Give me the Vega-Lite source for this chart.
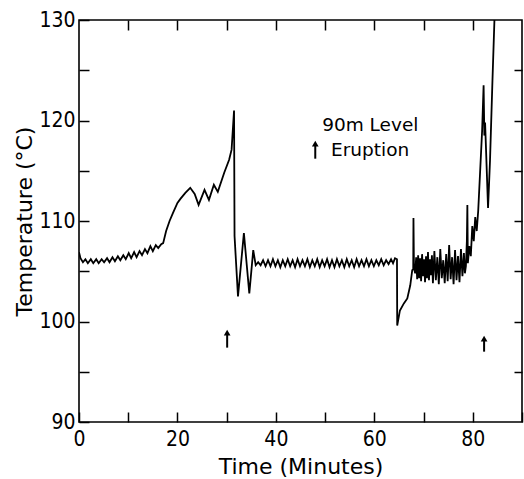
{
  "$schema": "https://vega.github.io/schema/vega-lite/v6.json",
  "width": 443,
  "height": 402,
  "autosize": {"type": "none"},
  "padding": {"left": 79, "top": 20, "right": 2, "bottom": 57},
  "background": "white",
  "config": {
    "view": {"stroke": "black", "strokeWidth": 1.6},
    "axis": {
      "labelColor": "black", "tickColor": "black", "titleColor": "black",
      "domain": false, "grid": false, "tickWidth": 1.5,
      "labelFont": "DejaVu Sans Condensed, Liberation Sans, sans-serif", "labelFontSize": 21,
      "titleFont": "DejaVu Sans", "titleFontSize": 22, "titleFontWeight": "normal",
      "labelOverlap": false, "labelFlush": false
    }
  },
  "datasets": {
    "temp": [
      {"t":0,"T":106.9},{"t":0.3,"T":106.3},{"t":0.8,"T":105.9},{"t":1.3,"T":106.2},{"t":1.8,"T":105.8},{"t":2.4,"T":106.2},{"t":2.9,"T":105.8},{"t":3.5,"T":106.2},{"t":4.0,"T":105.8},{"t":4.6,"T":106.2},{"t":5.1,"T":105.9},{"t":5.7,"T":106.3},{"t":6.2,"T":105.9},{"t":6.8,"T":106.4},{"t":7.3,"T":106.0},{"t":7.9,"T":106.5},{"t":8.4,"T":106.1},{"t":9.0,"T":106.6},{"t":9.5,"T":106.2},{"t":10.1,"T":106.8},{"t":10.6,"T":106.3},{"t":11.2,"T":106.9},{"t":11.7,"T":106.4},{"t":12.3,"T":107.0},{"t":12.8,"T":106.6},{"t":13.4,"T":107.2},{"t":13.9,"T":106.8},{"t":14.5,"T":107.5},{"t":15.0,"T":107.0},{"t":15.6,"T":107.6},{"t":16.1,"T":107.3},{"t":16.7,"T":107.7},{"t":17.1,"T":107.8},{"t":17.7,"T":109.0},{"t":18.4,"T":110.0},{"t":19.1,"T":110.8},{"t":20.0,"T":111.8},{"t":20.6,"T":112.2},{"t":21.6,"T":112.8},{"t":22.6,"T":113.3},{"t":23.5,"T":112.7},{"t":24.3,"T":111.6},{"t":25.5,"T":113.1},{"t":26.4,"T":112.1},{"t":27.4,"T":113.6},{"t":28.2,"T":112.9},{"t":29.5,"T":114.8},{"t":30.5,"T":116.1},{"t":31.0,"T":117.1},{"t":31.5,"T":121.0},{"t":31.6,"T":108.5},{"t":32.3,"T":102.5},{"t":33.5,"T":108.8},{"t":34.6,"T":102.8},{"t":35.4,"T":107.1},{"t":35.9,"T":105.6},{"t":36.4,"T":105.9},
      {"t":36.9,"T":105.6},{"t":37.4,"T":106.1},{"t":37.9,"T":105.5},{"t":38.4,"T":106.1},{"t":38.9,"T":105.5},{"t":39.4,"T":106.2},{"t":39.9,"T":105.5},{"t":40.4,"T":106.1},{"t":40.9,"T":105.4},{"t":41.4,"T":106.1},{"t":41.9,"T":105.5},{"t":42.4,"T":106.2},{"t":42.9,"T":105.5},{"t":43.4,"T":106.1},{"t":43.9,"T":105.4},{"t":44.4,"T":106.2},{"t":44.9,"T":105.5},{"t":45.4,"T":106.1},{"t":45.9,"T":105.5},{"t":46.4,"T":106.2},{"t":46.9,"T":105.4},{"t":47.4,"T":106.1},{"t":47.9,"T":105.5},{"t":48.4,"T":106.2},{"t":48.9,"T":105.4},{"t":49.4,"T":106.1},{"t":49.9,"T":105.5},{"t":50.4,"T":106.2},{"t":50.9,"T":105.4},{"t":51.4,"T":106.1},{"t":51.9,"T":105.4},{"t":52.4,"T":106.2},{"t":52.9,"T":105.5},{"t":53.4,"T":106.1},{"t":53.9,"T":105.4},{"t":54.4,"T":106.2},{"t":54.9,"T":105.5},{"t":55.4,"T":106.1},{"t":55.9,"T":105.4},{"t":56.4,"T":106.2},{"t":56.9,"T":105.5},{"t":57.4,"T":106.1},{"t":57.9,"T":105.5},{"t":58.4,"T":106.2},{"t":58.9,"T":105.5},{"t":59.4,"T":106.1},{"t":59.9,"T":105.5},{"t":60.4,"T":106.1},{"t":60.9,"T":105.6},{"t":61.4,"T":106.2},{"t":61.9,"T":105.6},{"t":62.4,"T":106.1},{"t":62.9,"T":105.7},{"t":63.4,"T":106.2},{"t":63.8,"T":105.8},{"t":64.2,"T":106.3},{"t":64.6,"T":106.2},
      {"t":64.65,"T":99.6},{"t":65.2,"T":101.1},{"t":66.0,"T":101.8},{"t":66.7,"T":102.3},{"t":67.3,"T":103.6},{"t":67.7,"T":105.1},{"t":67.9,"T":105.2},{"t":67.95,"T":110.3},{"t":68.05,"T":105.3},
      {"t":68.3,"T":104.8},{"t":68.5,"T":106.4},{"t":68.7,"T":104.2},{"t":68.9,"T":106.6},{"t":69.1,"T":104.3},{"t":69.3,"T":106.3},{"t":69.5,"T":104.0},{"t":69.7,"T":106.7},{"t":69.9,"T":104.5},{"t":70.1,"T":106.2},{"t":70.3,"T":103.9},{"t":70.5,"T":106.5},{"t":70.7,"T":104.3},{"t":70.9,"T":106.9},{"t":71.1,"T":104.1},{"t":71.3,"T":106.2},{"t":71.5,"T":104.6},{"t":71.7,"T":106.6},{"t":71.9,"T":103.8},{"t":72.2,"T":107.0},{"t":72.5,"T":104.1},{"t":72.8,"T":106.4},{"t":73.1,"T":103.7},{"t":73.4,"T":107.2},{"t":73.7,"T":104.3},{"t":74.0,"T":106.1},{"t":74.3,"T":103.8},{"t":74.6,"T":106.7},{"t":74.9,"T":104.0},{"t":75.2,"T":107.6},{"t":75.5,"T":104.2},{"t":75.8,"T":106.4},{"t":76.1,"T":103.7},{"t":76.4,"T":107.1},{"t":76.7,"T":104.1},{"t":77.0,"T":106.5},{"t":77.3,"T":103.9},{"t":77.6,"T":107.2},{"t":77.9,"T":104.5},{"t":78.2,"T":106.8},{"t":78.4,"T":104.8},
      {"t":78.6,"T":105.5},{"t":78.8,"T":108.0},{"t":78.9,"T":111.6},{"t":79.0,"T":105.8},{"t":79.3,"T":107.5},{"t":79.6,"T":106.5},{"t":79.9,"T":109.5},{"t":80.2,"T":108.0},{"t":80.5,"T":110.4},{"t":80.8,"T":109.0},{"t":81.1,"T":111.0},{"t":81.5,"T":115.0},{"t":81.9,"T":119.0},{"t":82.2,"T":123.5},{"t":82.35,"T":118.5},{"t":82.5,"T":119.8},{"t":82.7,"T":117.0},{"t":83.1,"T":111.3},{"t":83.5,"T":116.0},{"t":84.0,"T":124.0},{"t":84.4,"T":130.0}
    ],
    "arrows": [
      {"t":30.1,"lo":97.4,"hi":98.9},
      {"t":82.3,"lo":97.0,"hi":98.3},
      {"t":48.0,"lo":116.2,"hi":117.7}
    ],
    "notes": [
      {"t":49.4,"T":119.55,"label":"90m Level"},
      {"t":51.2,"T":117.1,"label":"Eruption"}
    ]
  },
  "layer": [
    {
      "data": {"name": "temp"},
      "mark": {"type": "line", "color": "black", "strokeWidth": 1.8, "clip": true},
      "encoding": {
        "x": {"field": "t", "type": "quantitative", "scale": {"domain": [0, 90], "nice": false, "zero": false},
          "axis": {"orient": "bottom", "values": [0,10,20,30,40,50,60,70,80,90],
            "labelExpr": "datum.value % 20 == 0 && datum.value < 90 ? datum.label : ''",
            "tickSize": -10, "labelPadding": 16, "title": "Time (Minutes)", "titlePadding": 7}},
        "y": {"field": "T", "type": "quantitative", "scale": {"domain": [90, 130], "nice": false, "zero": false},
          "axis": {"orient": "left", "values": [90,95,100,105,110,115,120,125,130],
            "labelExpr": "datum.value % 10 == 0 ? datum.label : ''",
            "tickSize": -10, "labelPadding": 14, "title": "Temperature (°C)", "titlePadding": 2}}
      }
    },
    {
      "data": {"name": "arrows"},
      "mark": {"type": "rule", "color": "black", "strokeWidth": 2},
      "encoding": {
        "x": {"field": "t", "type": "quantitative",
          "axis": {"orient": "top", "values": [10,20,30,40,50,60,70,80], "labels": false, "tickSize": -10, "title": null}},
        "y": {"field": "lo", "type": "quantitative",
          "axis": {"orient": "right", "values": [95,100,105,110,115,120,125], "labels": false, "tickSize": -8, "title": null}},
        "y2": {"field": "hi"}
      }
    },
    {
      "data": {"name": "arrows"},
      "mark": {"type": "point", "shape": "triangle-up", "filled": true, "color": "black", "size": 45, "opacity": 1},
      "encoding": {
        "x": {"field": "t", "type": "quantitative", "axis": null},
        "y": {"field": "hi", "type": "quantitative", "axis": null}
      }
    },
    {
      "data": {"name": "notes"},
      "mark": {"type": "text", "align": "left", "baseline": "middle", "font": "DejaVu Sans", "fontSize": 18.5, "color": "black"},
      "encoding": {
        "x": {"field": "t", "type": "quantitative", "axis": null},
        "y": {"field": "T", "type": "quantitative", "axis": null},
        "text": {"field": "label"}
      }
    }
  ],
  "resolve": {"axis": {"x": "independent", "y": "independent"}}
}
